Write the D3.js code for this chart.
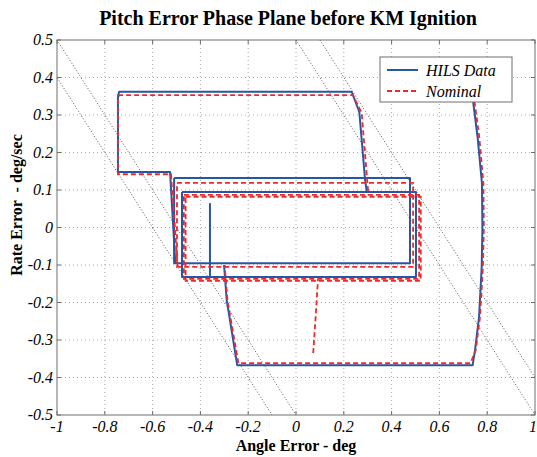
<!DOCTYPE html>
<html>
<head>
<meta charset="utf-8">
<script src="https://cdn.jsdelivr.net/npm/d3@7"></script>
<style>
  html, body { margin: 0; padding: 0; background: #fff; }
  svg { display: block; }
  text { font-family: "Liberation Serif", "Times New Roman", serif; fill: #000; }
</style>
</head>
<body>
<div id="chart"></div>
<script>
// Axis ticks
const angleTicks = [-1, -0.8, -0.6, -0.4, -0.2, 0, 0.2, 0.4, 0.6, 0.8, 1];
const rateTicks = [-0.5, -0.4, -0.3, -0.2, -0.1, 0, 0.1, 0.2, 0.3, 0.4, 0.5];

// Switching lines: rate = -angle + c
const switchIntercepts = [-0.6, -0.5, 0.5, 0.6];

// HILS Data trajectory pieces [angle, rate]
const hilsStart = [[-0.36, 0.065], [-0.36, -0.135]];
const hilsLoopA = [[-0.510, 0.132], [0.477, 0.132], [0.477, -0.095], [-0.510, -0.095], [-0.510, 0.132]];
const hilsLoopB = [[-0.477, 0.095], [0.502, 0.095], [0.502, -0.132], [-0.477, -0.132], [-0.477, 0.095]];
const hilsUpper = [[-0.505, -0.095], [-0.527, 0.148], [-0.745, 0.148], [-0.745, 0.350], [-0.740, 0.362],
                   [0.233, 0.362], [0.265, 0.308], [0.289, 0.127], [0.296, 0.097]];
const hilsLower = [[0.738, 0.40], [0.742, 0.331], [0.760, 0.240], [0.778, 0.118], [0.780, 0.0],
                   [0.777, -0.105], [0.766, -0.238], [0.749, -0.327], [0.739, -0.367],
                   [-0.246, -0.367], [-0.290, -0.193], [-0.301, -0.100]];

// Nominal trajectory pieces [angle, rate]
const nomStart = [[0.072, -0.335], [0.082, -0.24], [0.092, -0.138]];
const nomLoopA = [[-0.498, 0.119], [0.490, 0.119], [0.490, -0.105], [-0.498, -0.105], [-0.498, 0.119]];
const nomLoopB = [[-0.469, 0.087], [0.515, 0.087], [0.515, -0.137], [-0.469, -0.137], [-0.469, 0.087]];
const nomLoopC = [[-0.462, 0.082], [0.522, 0.082], [0.522, -0.142], [-0.462, -0.142], [-0.462, 0.082]];
const nomUpper = [[-0.495, -0.105], [-0.523, 0.142], [-0.745, 0.142], [-0.745, 0.345], [-0.738, 0.353],
                  [0.238, 0.353], [0.275, 0.305], [0.296, 0.140], [0.303, 0.087]];
const nomLower = [[0.742, 0.40], [0.748, 0.331], [0.767, 0.240], [0.784, 0.118], [0.786, 0.0],
                  [0.782, -0.105], [0.770, -0.238], [0.752, -0.327], [0.730, -0.362],
                  [-0.241, -0.362], [-0.287, -0.193], [-0.298, -0.105]];

const hilsPieces = [hilsStart, hilsLoopA, hilsLoopB, hilsUpper, hilsLower];
const nomPieces = [nomStart, nomLoopA, nomLoopB, nomLoopC, nomUpper, nomLower];

const W = 537, H = 457;
const x = d3.scaleLinear().domain([-1, 1]).range([57, 535]);
const y = d3.scaleLinear().domain([-0.5, 0.5]).range([415, 40]);

const svg = d3.select("#chart").append("svg").attr("width", W).attr("height", H);

svg.append("defs").append("clipPath").attr("id", "plotClip")
  .append("rect").attr("x", x(-1)).attr("y", y(0.5))
  .attr("width", x(1) - x(-1)).attr("height", y(-0.5) - y(0.5));

// grid
const grid = svg.append("g");
grid.selectAll("line.gx").data(angleTicks.slice(1, -1)).join("line")
  .attr("x1", d => x(d)).attr("x2", d => x(d)).attr("y1", y(0.5)).attr("y2", y(-0.5))
  .attr("stroke", "#a8a8a8").attr("stroke-width", 1).attr("stroke-dasharray", "1,3");
grid.selectAll("line.gy").data(rateTicks.slice(1, -1)).join("line")
  .attr("y1", d => y(d)).attr("y2", d => y(d)).attr("x1", x(-1)).attr("x2", x(1))
  .attr("stroke", "#a8a8a8").attr("stroke-width", 1).attr("stroke-dasharray", "1,3");

// switching lines
const plot = svg.append("g").attr("clip-path", "url(#plotClip)");
plot.selectAll("line.sw").data(switchIntercepts).join("line")
  .attr("x1", c => x(c - 0.5)).attr("y1", y(0.5))
  .attr("x2", c => x(c + 0.5)).attr("y2", y(-0.5))
  .attr("stroke", "#555").attr("stroke-width", 1).attr("stroke-dasharray", "1,2");

const line = d3.line().x(d => x(d[0])).y(d => y(d[1]));

plot.selectAll("path.hils").data(hilsPieces).join("path")
  .attr("d", line).attr("fill", "none")
  .attr("stroke", "#2457a8").attr("stroke-width", 2).attr("stroke-linejoin", "round");

plot.selectAll("path.nom").data(nomPieces).join("path")
  .attr("d", line).attr("fill", "none")
  .attr("stroke", "#f02828").attr("stroke-width", 1.8).attr("stroke-dasharray", "5,3");

// axes frame
const axisG = svg.append("g");
axisG.append("rect").attr("x", x(-1)).attr("y", y(0.5))
  .attr("width", x(1) - x(-1)).attr("height", y(-0.5) - y(0.5))
  .attr("fill", "none").attr("stroke", "#6e6e6e").attr("stroke-width", 1);

// inward ticks
axisG.selectAll("line.tx").data(angleTicks).join("line")
  .attr("x1", d => x(d)).attr("x2", d => x(d)).attr("y1", y(-0.5)).attr("y2", y(-0.5) - 4)
  .attr("stroke", "#6e6e6e");
axisG.selectAll("line.tx2").data(angleTicks).join("line")
  .attr("x1", d => x(d)).attr("x2", d => x(d)).attr("y1", y(0.5)).attr("y2", y(0.5) + 4)
  .attr("stroke", "#6e6e6e");
axisG.selectAll("line.ty").data(rateTicks).join("line")
  .attr("y1", d => y(d)).attr("y2", d => y(d)).attr("x1", x(-1)).attr("x2", x(-1) + 4)
  .attr("stroke", "#6e6e6e");
axisG.selectAll("line.ty2").data(rateTicks).join("line")
  .attr("y1", d => y(d)).attr("y2", d => y(d)).attr("x1", x(1)).attr("x2", x(1) - 4)
  .attr("stroke", "#6e6e6e");

const fmt = d => String(d);

axisG.selectAll("text.xl").data(angleTicks).join("text")
  .attr("x", d => d === 1 ? x(d) - 2 : x(d)).attr("y", 432)
  .attr("text-anchor", "middle").attr("font-style", "italic").attr("font-size", 16)
  .style("font-family", "'Liberation Serif', serif")
  .text(fmt);
axisG.selectAll("text.yl").data(rateTicks).join("text")
  .attr("x", 53).attr("y", d => y(d) + 5)
  .attr("text-anchor", "end").attr("font-style", "italic").attr("font-size", 16)
  .style("font-family", "'Liberation Serif', serif")
  .text(fmt);

// titles
svg.append("text").attr("x", 288).attr("y", 25).attr("text-anchor", "middle")
  .attr("font-weight", "bold").attr("font-size", 20)
  .text("Pitch Error Phase Plane before KM Ignition");
svg.append("text").attr("x", 296).attr("y", 451).attr("text-anchor", "middle")
  .attr("font-weight", "bold").attr("font-size", 16)
  .text("Angle Error - deg");
svg.append("text").attr("transform", "translate(22,205) rotate(-90)").attr("text-anchor", "middle")
  .attr("font-weight", "bold").attr("font-size", 16)
  .style("white-space", "pre")
  .text("Rate Error  - deg/sec");

// legend
const lg = svg.append("g");
lg.append("rect").attr("x", 380).attr("y", 57).attr("width", 132).attr("height", 45)
  .attr("fill", "#fff").attr("stroke", "#6e6e6e").attr("stroke-width", 1);
lg.append("line").attr("x1", 387).attr("x2", 418).attr("y1", 70).attr("y2", 70)
  .attr("stroke", "#2457a8").attr("stroke-width", 2);
lg.append("line").attr("x1", 387).attr("x2", 418).attr("y1", 91).attr("y2", 91)
  .attr("stroke", "#f02828").attr("stroke-width", 1.8).attr("stroke-dasharray", "5,3");
lg.append("text").attr("x", 426).attr("y", 76).attr("font-style", "italic").attr("font-size", 16)
  .text("HILS Data");
lg.append("text").attr("x", 426).attr("y", 97).attr("font-style", "italic").attr("font-size", 16)
  .text("Nominal");
</script>
</body>
</html>
